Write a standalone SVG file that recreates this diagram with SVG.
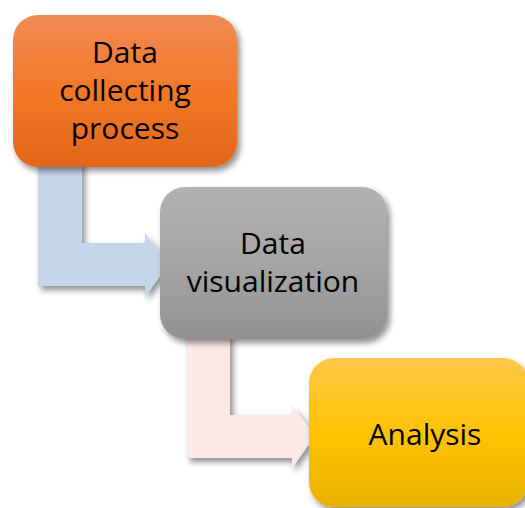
<svg xmlns="http://www.w3.org/2000/svg" width="525" height="508" viewBox="0 0 525 508">
<defs>
<linearGradient id="gOrange" x1="0" y1="0" x2="0" y2="1">
<stop offset="0" stop-color="#EF8B55"/>
<stop offset="0.5" stop-color="#F37826"/>
<stop offset="1" stop-color="#E2661C"/>
</linearGradient>
<linearGradient id="gGray" x1="0" y1="0" x2="0" y2="1">
<stop offset="0" stop-color="#B2B2B2"/>
<stop offset="0.5" stop-color="#A5A5A5"/>
<stop offset="1" stop-color="#919191"/>
</linearGradient>
<linearGradient id="gGold" x1="0" y1="0" x2="0" y2="1">
<stop offset="0" stop-color="#FFC848"/>
<stop offset="0.5" stop-color="#FFC300"/>
<stop offset="1" stop-color="#E8B200"/>
</linearGradient>
<filter id="shadow" x="-10%" y="-10%" width="130%" height="130%">
<feGaussianBlur in="SourceAlpha" stdDeviation="3"/>
<feOffset dx="3" dy="4" result="b"/>
<feComponentTransfer><feFuncA type="linear" slope="0.45"/></feComponentTransfer>
<feMerge><feMergeNode/><feMergeNode in="SourceGraphic"/></feMerge>
</filter>
</defs>
<style>
.lbl{font-family:"Open Sans","Liberation Sans",sans-serif;font-size:30px;fill:#000;text-anchor:middle}
</style>
<g id="connectors" filter="url(#shadow)">
<path id="arrow1" d="M38 160 H82 V243 H145 V233 L168 265 L145 297 V286 H38 Z" fill="#C5D5EA"/>
<path id="arrow2" d="M187 332 H230 V415 H292 V405 L315 436 L292 468 V458 H187 Z" fill="#FCE9E7"/>
</g>
<g id="node-collect">
<rect x="13" y="15" width="224" height="152" rx="25" fill="url(#gOrange)" filter="url(#shadow)"/>
<text class="lbl" x="125" y="63">Data</text>
<text class="lbl" x="125" y="101">collecting</text>
<text class="lbl" x="125" y="139">process</text>
</g>
<g id="node-visual">
<rect x="160" y="187" width="227" height="152" rx="25" fill="url(#gGray)" filter="url(#shadow)"/>
<text class="lbl" x="273" y="254">Data</text>
<text class="lbl" x="273" y="292">visualization</text>
</g>
<g id="node-analysis">
<rect x="309" y="358" width="219" height="149" rx="25" fill="url(#gGold)" filter="url(#shadow)"/>
<text class="lbl" x="425" y="445">Analysis</text>
</g>
</svg>
